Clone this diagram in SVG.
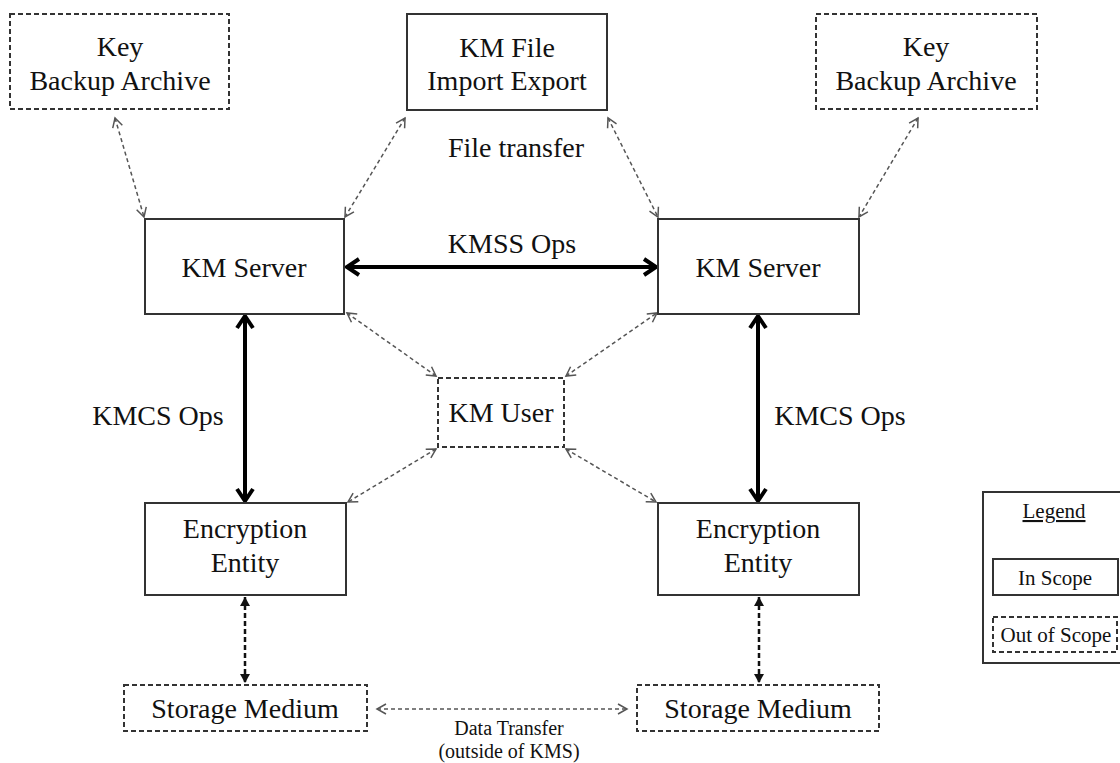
<svg xmlns="http://www.w3.org/2000/svg" width="1120" height="763" viewBox="0 0 1120 763">
<style>
text{font-family:"Liberation Serif","Times New Roman",serif;fill:#111;text-anchor:middle}
.t{font-size:28px}
.s{font-size:20px}
.l{font-size:21px}
.solid{fill:#fff;stroke:#333;stroke-width:2}
.dash{fill:#fff;stroke:#333;stroke-width:2;stroke-dasharray:5 3}
.thick{stroke:#000;stroke-width:4;fill:none}
.dc{stroke:#555;stroke-width:1.5;stroke-dasharray:4 3;fill:none}
.vd{stroke:#111;stroke-width:2.5;stroke-dasharray:5 3;fill:none}
</style>
<defs>
<marker id="chev" markerUnits="userSpaceOnUse" markerWidth="30" markerHeight="30" refX="0" refY="0" viewBox="-15 -15 30 30" orient="auto-start-reverse" overflow="visible">
<path d="M-12,-8 L0,0 L-12,8" fill="none" stroke="#000" stroke-width="4"/>
</marker>
<marker id="small" markerUnits="userSpaceOnUse" markerWidth="20" markerHeight="20" refX="0" refY="0" viewBox="-10 -10 20 20" orient="auto-start-reverse" overflow="visible">
<path d="M-9,-5 L0,0 L-9,5" fill="none" stroke="#555" stroke-width="1.5"/>
</marker>
<marker id="tri" markerUnits="userSpaceOnUse" markerWidth="20" markerHeight="20" refX="0" refY="0" viewBox="-10 -10 20 20" orient="auto-start-reverse" overflow="visible">
<path d="M-9,-5 L0,0 L-9,5 Z" fill="#111"/>
</marker>
</defs>
<rect width="1120" height="763" fill="#fff"/>

<g id="connectors">
<line class="thick" x1="347" y1="267" x2="656" y2="267" marker-start="url(#chev)" marker-end="url(#chev)"/>
<line class="thick" x1="245" y1="316" x2="245" y2="501" marker-start="url(#chev)" marker-end="url(#chev)"/>
<line class="thick" x1="758" y1="316" x2="758" y2="501" marker-start="url(#chev)" marker-end="url(#chev)"/>
<line class="dc" x1="115" y1="118" x2="144" y2="217" marker-start="url(#small)" marker-end="url(#small)"/>
<line class="dc" x1="405" y1="118" x2="345" y2="217" marker-start="url(#small)" marker-end="url(#small)"/>
<line class="dc" x1="608" y1="118" x2="658" y2="217" marker-start="url(#small)" marker-end="url(#small)"/>
<line class="dc" x1="918" y1="118" x2="859" y2="217" marker-start="url(#small)" marker-end="url(#small)"/>
<line class="dc" x1="347" y1="313" x2="436" y2="376" marker-start="url(#small)" marker-end="url(#small)"/>
<line class="dc" x1="566" y1="376" x2="657" y2="313" marker-start="url(#small)" marker-end="url(#small)"/>
<line class="dc" x1="436" y1="449" x2="348" y2="502" marker-start="url(#small)" marker-end="url(#small)"/>
<line class="dc" x1="566" y1="449" x2="656" y2="502" marker-start="url(#small)" marker-end="url(#small)"/>
<line class="vd" x1="245" y1="597" x2="245" y2="683" marker-start="url(#tri)" marker-end="url(#tri)"/>
<line class="vd" x1="759" y1="597" x2="759" y2="683" marker-start="url(#tri)" marker-end="url(#tri)"/>
<line class="dc" x1="377" y1="709" x2="627" y2="709" marker-start="url(#small)" marker-end="url(#small)"/>
<text class="t" x="516" y="157">File transfer</text>
<text class="t" x="512" y="253">KMSS Ops</text>
<text class="t" x="158" y="425">KMCS Ops</text>
<text class="t" x="840" y="425">KMCS Ops</text>
<text class="s" x="509" y="735">Data Transfer</text>
<text class="s" x="509" y="758">(outside of KMS)</text>
</g>

<g id="key-backup-left">
<rect class="dash" x="10" y="14" width="219" height="95"/>
<text class="t" x="120" y="56">Key</text>
<text class="t" x="120" y="90">Backup Archive</text>
</g>
<g id="km-file">
<rect class="solid" x="407" y="14" width="200" height="96"/>
<text class="t" x="507" y="57">KM File</text>
<text class="t" x="507" y="90">Import Export</text>
</g>
<g id="key-backup-right">
<rect class="dash" x="816" y="14" width="221" height="95"/>
<text class="t" x="926" y="56">Key</text>
<text class="t" x="926" y="90">Backup Archive</text>
</g>
<g id="km-server-left">
<rect class="solid" x="145" y="219" width="199" height="95"/>
<text class="t" x="244" y="277">KM Server</text>
</g>
<g id="km-server-right">
<rect class="solid" x="658" y="219" width="201" height="95"/>
<text class="t" x="758" y="277">KM Server</text>
</g>
<g id="km-user">
<rect class="dash" x="438" y="378" width="126" height="69"/>
<text class="t" x="501" y="422">KM User</text>
</g>
<g id="enc-left">
<rect class="solid" x="145" y="503" width="201" height="92"/>
<text class="t" x="245" y="538">Encryption</text>
<text class="t" x="245" y="572">Entity</text>
</g>
<g id="enc-right">
<rect class="solid" x="658" y="503" width="201" height="92"/>
<text class="t" x="758" y="538">Encryption</text>
<text class="t" x="758" y="572">Entity</text>
</g>
<g id="storage-left">
<rect class="dash" x="124" y="685" width="243" height="46"/>
<text class="t" x="245" y="718">Storage Medium</text>
</g>
<g id="storage-right">
<rect class="dash" x="637" y="685" width="242" height="46"/>
<text class="t" x="758" y="718">Storage Medium</text>
</g>
<g id="legend">
<rect class="solid" x="983" y="492" width="145" height="171"/>
<text class="l" x="1054" y="518" text-decoration="underline">Legend</text>
<rect class="solid" x="993" y="559" width="125" height="36"/>
<text class="l" x="1055" y="585">In Scope</text>
<rect class="dash" x="993" y="617" width="124" height="35"/>
<text class="l" x="1056" y="642">Out of Scope</text>
</g>
</svg>
